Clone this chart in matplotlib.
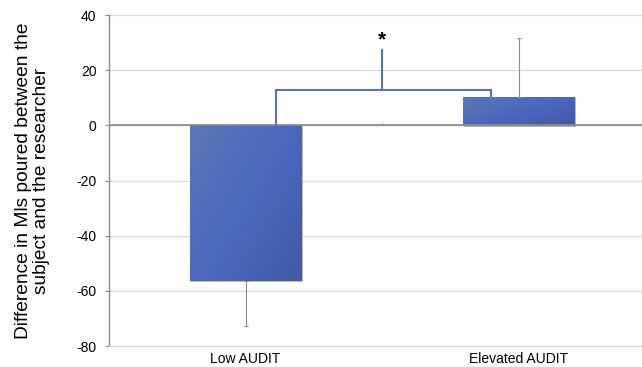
import numpy as np
import matplotlib
matplotlib.use("Agg")
import matplotlib.pyplot as plt
from matplotlib.colors import LinearSegmentedColormap
import matplotlib.patheffects as pe

plt.rcParams['font.family'] = ['Liberation Sans', 'DejaVu Sans']

# data
groups = ["Low AUDIT", "Elevated AUDIT"]
means = [-56.4, 10.4]
err_low = [16.3, 0]     # error bar drawn downward for the low group
err_high = [0, 21.1]    # and upward for the elevated group
yticks = [-80, -60, -40, -20, 0, 20, 40]

# significance bracket
br_left, br_right, br_mid = 0.11, 0.9, 0.5
br_height = 12.9
br_top = 27.3

fig = plt.figure(figsize=(6.42, 3.67), dpi=100)
ax = fig.add_axes([0.1698, 0.0572, 0.8505, 0.9019])

x = np.arange(len(groups))
bars = ax.bar(x, means, width=0.41, color='#4a68c0', edgecolor='none', zorder=2,
              path_effects=[pe.SimplePatchShadow(offset=(1, -1), shadow_rgbFace='#777777', alpha=0.5),
                            pe.Normal()])

# diagonal gradient on each bar
cmap = LinearSegmentedColormap.from_list('bar', ['#5e77b6', '#4b68bf', '#425aa6'])
u, v = np.meshgrid(np.linspace(0, 1, 200), np.linspace(0, 1, 200))
grad = 0.55 * u + 0.45 * v
for b in bars:
    x0, y0 = b.get_x(), b.get_y()
    w, h = b.get_width(), b.get_height()
    ylo, yhi = min(y0, y0 + h), max(y0, y0 + h)
    im = ax.imshow(grad, cmap=cmap, extent=(x0, x0 + w, ylo, yhi), origin='upper',
                   aspect='auto', zorder=3, interpolation='bilinear')
    im.set_clip_path(b)

ax.errorbar(x, means, yerr=[err_low, err_high], fmt='none', ecolor='#8c8c8c',
            elinewidth=0.8, capsize=1.2, capthick=0.8, zorder=4)

# bracket
bc = '#5a73b5'
ax.plot([br_left, br_left, br_right, br_right], [0, br_height, br_height, means[1]],
        color=bc, lw=1.5, zorder=5, solid_joinstyle='miter')
ax.plot([br_mid, br_mid], [br_height, br_top], color=bc, lw=1.5, zorder=5)
ax.text(br_mid, br_top + 0.2, '*', ha='center', va='bottom', fontsize=15,
        fontweight='bold', color='black')

ax.set_xlim(-0.5, 1.5)
ax.set_ylim(-80, 40)
ax.set_yticks(yticks)
ax.set_yticklabels([str(t) for t in yticks], fontsize=10)
ax.yaxis.grid(True, color='#d9d9d9', lw=0.9, zorder=0)
ax.set_axisbelow(True)
ax.axhline(0, color='#8a8a8a', lw=1.2, zorder=4)

ax.set_xticks(x)
ax.set_xticklabels(groups, fontsize=10)
ax.tick_params(axis='x', length=0, pad=4)
ax.tick_params(axis='y', length=3, color='#8a8a8a', pad=6, direction='out')

for s in ['top', 'right']:
    ax.spines[s].set_visible(False)
ax.spines['bottom'].set_color('#d9d9d9')
ax.spines['bottom'].set_linewidth(0.9)
ax.spines['left'].set_color('#8a8a8a')
ax.spines['left'].set_linewidth(1.0)

# small category divider tick on the zero line
sec = ax.secondary_xaxis((0 - (-80)) / 120)
sec.set_xticks([0.5])
sec.set_xticklabels([''])
sec.tick_params(length=3, color='#c8c8c8', direction='out')
sec.spines['bottom'].set_visible(False)

ax.set_ylabel('Difference in Mls poured between the\nsubject and the researcher',
              fontsize=13.8, labelpad=19, linespacing=1.05)

fig.savefig('out.png', dpi=100)
